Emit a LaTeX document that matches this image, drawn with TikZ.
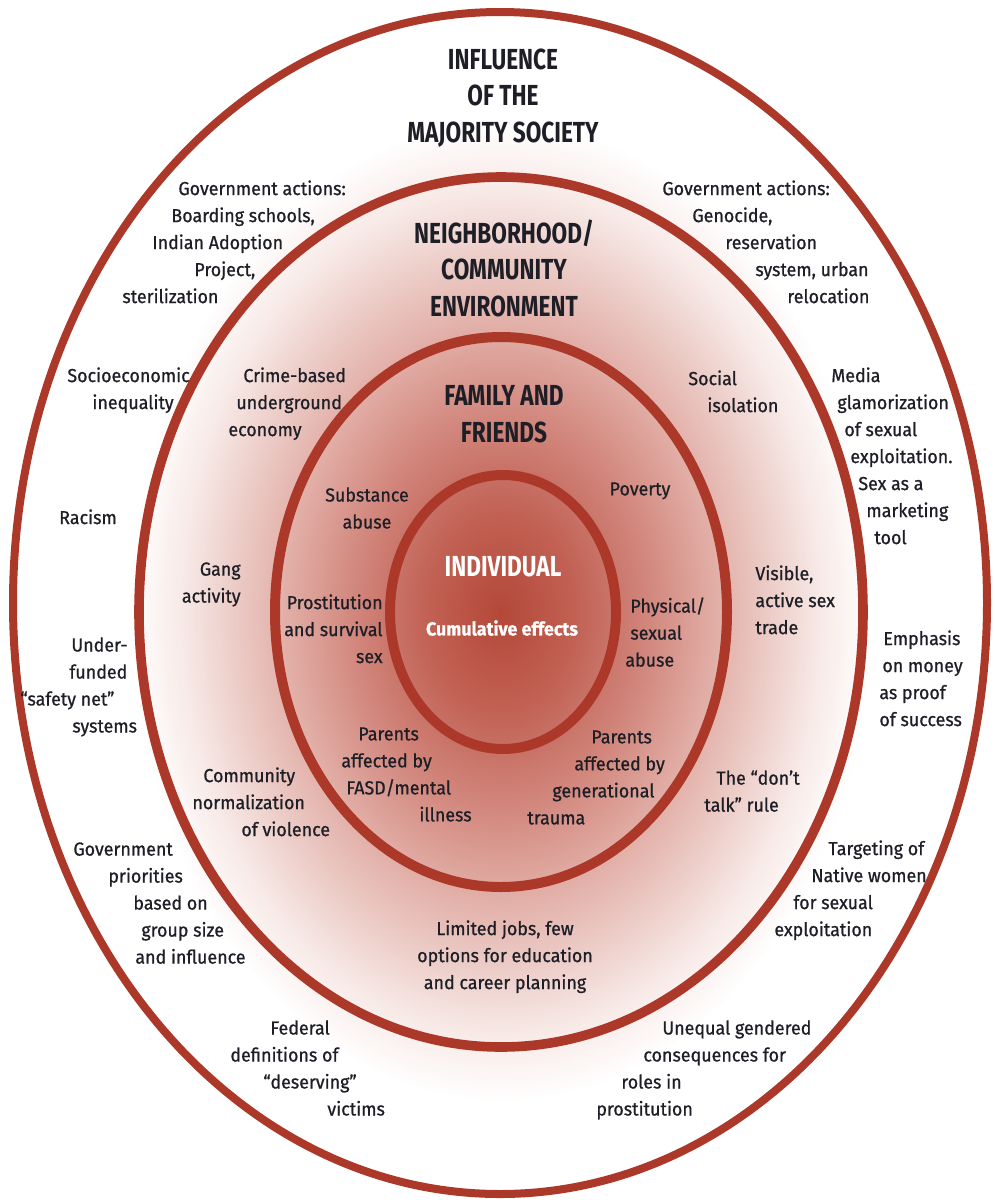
\documentclass[tikz,border=0pt]{standalone}
\usepackage{fontspec}
\setmainfont{Fira Sans}[FakeBold=0.8, FakeStretch=0.95]
\newfontfamily\headfont{Fira Sans}[FakeStretch=0.78]

\definecolor{ringred}{RGB}{172,56,42}
\definecolor{inktext}{RGB}{30,30,38}
\definecolor{shA}{RGB}{180,72,56}
\definecolor{shB}{RGB}{193,97,84}
\definecolor{shC}{RGB}{210,135,125}
\definecolor{shD}{RGB}{224,170,162}
\definecolor{shE}{RGB}{236,203,198}
\definecolor{shF}{RGB}{247,233,230}
\pgfdeclareradialshading{ringglow}{\pgfpoint{0bp}{0bp}}{color(0bp)=(shA); color(5bp)=(shB); color(10bp)=(shC); color(14bp)=(shD); color(18bp)=(shE); color(21.5bp)=(shF); color(25bp)=(white); color(50bp)=(white)}

\begin{document}
\begin{tikzpicture}[x=0.5pt, y=-0.5pt,
	ring/.style={draw=ringred},
	txt/.style={inner sep=0pt, text=inktext, align=left, font=\fontsize{9.4}{13.5}\selectfont},
	head/.style={inner sep=0pt, text=inktext, align=center, font=\headfont\bfseries\fontsize{14.5}{18.25}\selectfont}]
	\useasboundingbox (0,0) rectangle (995,1200);
	% glow and the four rings
	\shade[shading=ringglow] (501,612) ellipse (185pt and 245pt);
	\draw[ring, line width=4pt] (500,603) ellipse (243.5pt and 295.5pt);
	\draw[ring, line width=4.8pt] (501,612) ellipse (181pt and 217.5pt);
	\draw[ring, line width=5pt] (501,612) ellipse (113pt and 137.5pt);
	\draw[ring, line width=5pt] (503,612) ellipse (56.5pt and 68.5pt);

	% headings
	\node[head] (majority) at (503,98) {INFLUENCE\\OF THE\\MAJORITY SOCIETY};
	\node[head] (neighborhood) at (504,268) {NEIGHBORHOOD/\\COMMUNITY\\ENVIRONMENT};
	\node[head] (family) at (504,414) {FAMILY AND\\FRIENDS};
	\node[head, text=white] (individual) at (503,567) {INDIVIDUAL};
	\node[txt, text=white, font=\bfseries\fontsize{9.4}{13.5}\selectfont] (cumulative) at (502,628) {Cumulative effects};

	% outer ring
	\node[txt, anchor=north west] (govschools) at (122,180) {\hspace*{28pt}Government actions:\\\hspace*{24.5pt}Boarding schools,\\\hspace*{15pt}Indian Adoption\\\hspace*{36pt}Project,\\sterilization};
	\node[txt, anchor=north west] (govgenocide) at (662,180) {Government actions:\\\hspace*{15pt}Genocide,\\\hspace*{31.5pt}reservation\\\hspace*{46.5pt}system, urban\\\hspace*{62.5pt}relocation};
	\node[txt, anchor=north west] (socio) at (67,367) {Socioeconomic\\\hspace*{12.5pt}inequality};
	\node[txt, anchor=north west] (media) at (831,367) {Media\\\hspace*{3pt}glamorization\\\hspace*{6.5pt}of sexual\\\hspace*{9.5pt}exploitation.\\\hspace*{13.5pt}Sex as a\\\hspace*{17.5pt}marketing\\\hspace*{21.5pt}tool};
	\node[txt, anchor=north] (racism) at (88,509) {Racism};
	\node[txt, anchor=north west] (underfunded) at (20,637) {\hspace*{25.5pt}Under-\\\hspace*{24.5pt}funded\\“safety net”\\\hspace*{26pt}systems};
	\node[txt, anchor=north west] (emphasis) at (879,630) {\hspace*{2pt}Emphasis\\\hspace*{1.5pt}on money\\as proof\\of success};
	\node[txt, anchor=north west] (govprio) at (73,842) {Government\\\hspace*{17.5pt}priorities\\\hspace*{30pt}based on\\\hspace*{34pt}group size\\\hspace*{31pt}and influence};
	\node[txt, anchor=north west] (targeting) at (774,840) {\hspace*{27pt}Targeting of\\\hspace*{18.5pt}Native women\\\hspace*{9.5pt}for sexual\\exploitation};
	\node[txt, anchor=north west] (federal) at (230,1020) {\hspace*{20pt}Federal\\definitions of\\\hspace*{16.5pt}“deserving”\\\hspace*{48.5pt}victims};
	\node[txt, anchor=north west] (unequal) at (596,1020) {\hspace*{33pt}Unequal gendered\\\hspace*{23.5pt}consequences for\\\hspace*{12.5pt}roles in\\prostitution};

	% neighborhood ring
	\node[txt, anchor=north west] (crime) at (228,367) {\hspace*{7.5pt}Crime-based\\\hspace*{4pt}underground\\economy};
	\node[txt, anchor=north west] (isolation) at (688,370) {Social\\\hspace*{9.5pt}isolation};
	\node[txt, anchor=north east, align=right] (gang) at (241,562) {Gang\\activity};
	\node[txt, anchor=north west] (visible) at (755,565) {Visible,\\active sex\\trade};
	\node[txt, anchor=north west] (violence) at (192,767) {\hspace*{5.5pt}Community\\normalization\\\hspace*{24.5pt}of violence};
	\node[txt, anchor=north west] (donttalk) at (704,770) {\hspace*{6pt}The “don’t\\talk” rule};
	\node[txt, anchor=north, align=center] (jobs) at (505,920) {Limited jobs, few\\options for education\\and career planning};

	% family ring
	\node[txt, anchor=north, align=center] (substance) at (367,487) {Substance\\abuse};
	\node[txt, anchor=north] (poverty) at (640,482) {Poverty};
	\node[txt, anchor=north east, align=right] (survival) at (383,594) {Prostitution\\and survival\\sex};
	\node[txt, anchor=north west] (physical) at (625,597) {\hspace*{2.5pt}Physical/\\\hspace*{2.5pt}sexual\\abuse};
	\node[txt, anchor=north west] (fasd) at (341,727) {\hspace*{8.5pt}Parents\\affected by\\\hspace*{2.5pt}FASD/mental\\\hspace*{39pt}illness};
	\node[txt, anchor=north west] (trauma) at (527,730) {\hspace*{32pt}Parents\\\hspace*{23.5pt}affected by\\\hspace*{12.5pt}generational\\trauma};
\end{tikzpicture}
\end{document}
